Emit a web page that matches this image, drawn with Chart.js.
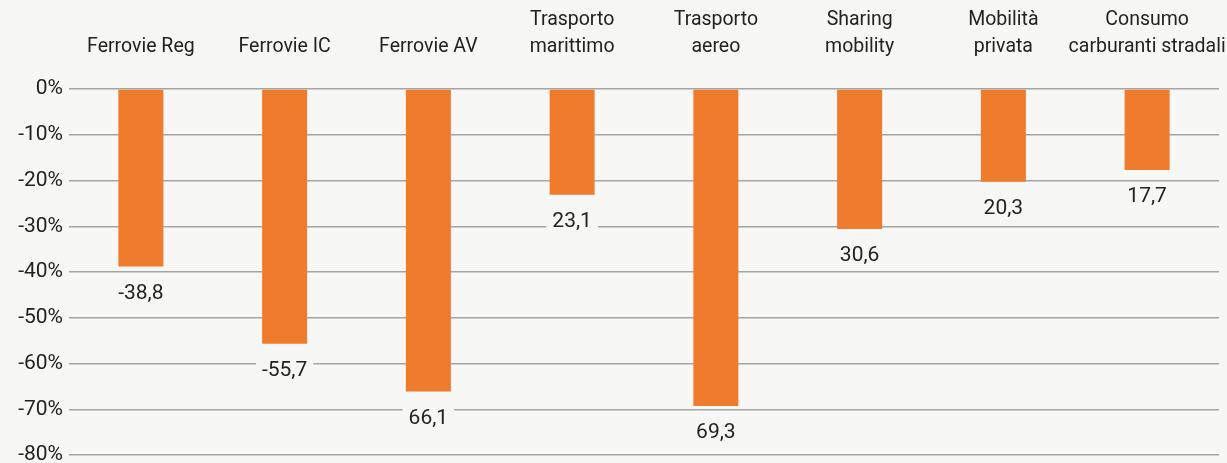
<!DOCTYPE html>
<html><head><meta charset="utf-8">
<script src="https://cdn.jsdelivr.net/npm/chart.js@4/dist/chart.umd.min.js"></script>
<style>
html,body{margin:0;padding:0;background:#f7f7f5;}
#wrap{position:relative;width:1227px;height:463px;}
</style></head><body>
<div id="wrap"><canvas id="c" width="1227" height="463"></canvas></div>
<script>
const categories = [["Ferrovie Reg"],["Ferrovie IC"],["Ferrovie AV"],["Trasporto","marittimo"],["Trasporto","aereo"],["Sharing","mobility"],["Mobilità","privata"],["Consumo","carburanti stradali"]];
const values = [-38.8,-55.7,-66.1,-23.1,-69.3,-30.6,-20.3,-17.7];
const valueLabels = ["-38,8","-55,7","66,1","23,1","69,3","30,6","20,3","17,7"];
const yMin = -80, yMax = 0, yStep = 10;

const FONT = "Roboto, 'Liberation Sans Narrow', sans-serif";
const BG = '#f7f7f5';

const valueLabelPlugin = {
  id: 'valueLabels',
  afterDatasetsDraw(chart) {
    const ctx = chart.ctx;
    const meta = chart.getDatasetMeta(0);
    ctx.save();
    ctx.font = "21px " + FONT;
    ctx.textAlign = 'center';
    ctx.textBaseline = 'middle';
    meta.data.forEach((el, i) => {
      const t = valueLabels[i];
      const w = ctx.measureText(t).width;
      const y = el.y + 27;
      ctx.fillStyle = BG;
      ctx.fillRect(el.x - w/2 - 6, y - 11, w + 12, 22);
      ctx.fillStyle = '#222';
      ctx.fillText(t, el.x, y);
    });
    ctx.restore();
  }
};

new Chart(document.getElementById('c'), {
  type: 'bar',
  data: {
    labels: categories,
    datasets: [{
      data: values,
      backgroundColor: '#ef7b2d',
      borderWidth: 0,
      categoryPercentage: 1,
      barPercentage: 0.313
    }]
  },
  options: {
    responsive: false,
    animation: false,
    devicePixelRatio: 1,
    layout: { padding: { left: 0, right: 8, top: 0, bottom: 8 } },
    plugins: { legend: { display: false }, tooltip: { enabled: false } },
    scales: {
      x: {
        position: 'top',
        grid: { display: false, drawTicks: false },
        border: { display: false },
        ticks: {
          color: '#222',
          font: { family: FONT, size: 19.5, lineHeight: 1.4 },
          padding: 28,
          maxRotation: 0,
          autoSkip: false
        },
        afterFit(s) { s.height = 89; s.paddingLeft = 0; s.paddingRight = 0; }
      },
      y: {
        min: yMin, max: yMax,
        grid: { color: '#a5a5a5', lineWidth: 1.5, drawTicks: false },
        border: { display: false },
        ticks: {
          stepSize: yStep,
          color: '#222',
          font: { family: FONT, size: 21 },
          padding: 6,
          callback: v => v + '%'
        },
        afterFit(s) { s.width = 69; s.paddingTop = 0; s.paddingBottom = 0; }
      }
    }
  },
  plugins: [valueLabelPlugin]
});
</script>
</body></html>
